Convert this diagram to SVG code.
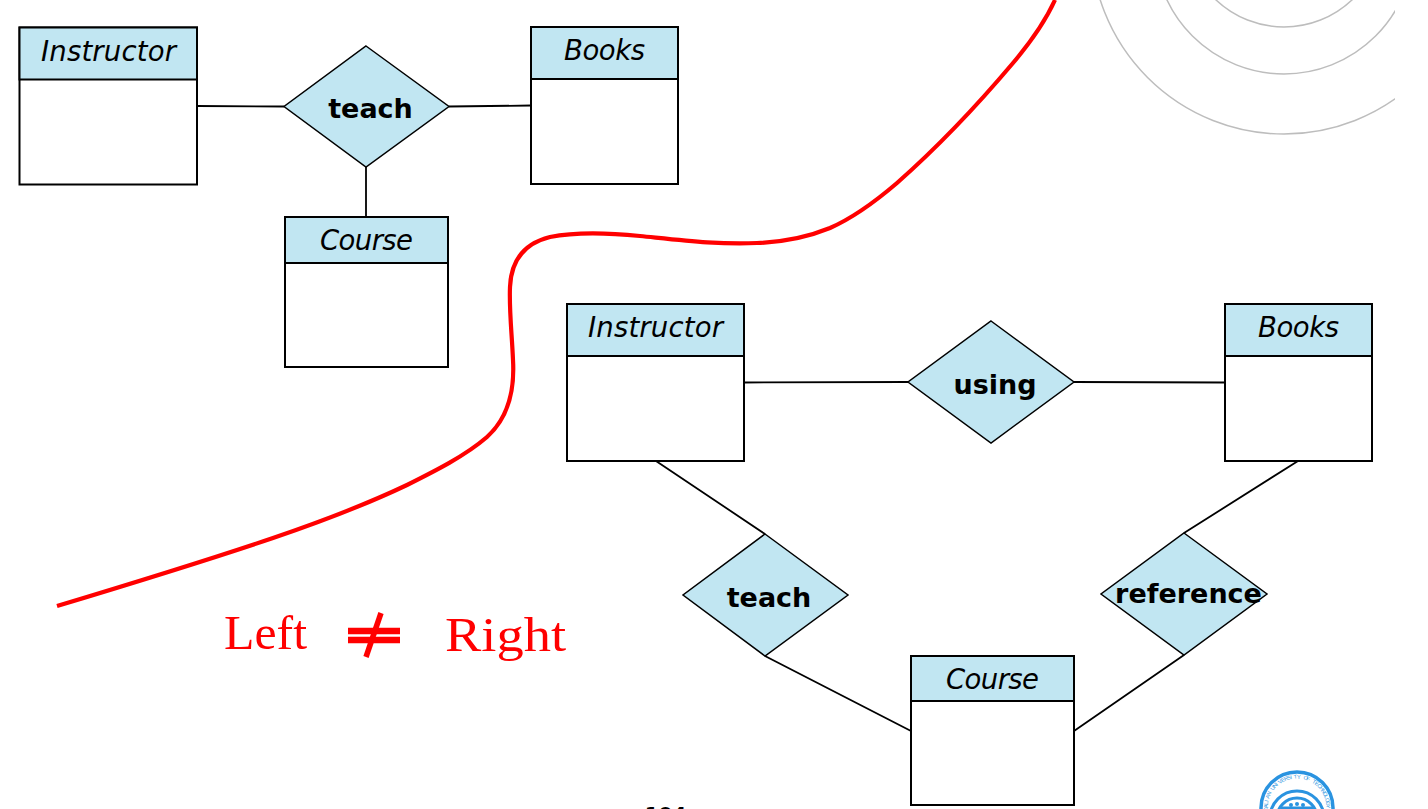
<svg xmlns="http://www.w3.org/2000/svg" width="1428" height="809" viewBox="0 0 1428 809">
<style>
.box{fill:#fff;stroke:#000;stroke-width:2}
.hd{fill:#c1e6f2;stroke:#000;stroke-width:2}
.dm{fill:#c1e6f2;stroke:#000;stroke-width:1.5}
.ln{fill:none;stroke:#000;stroke-width:1.8}
.en{font:italic 27.500px "DejaVu Sans",Verdana,sans-serif;text-anchor:middle;fill:#000}
.rl{font:bold 27px "DejaVu Sans",Verdana,sans-serif;text-anchor:middle;fill:#000}
.red{font:48px "Liberation Serif","Times New Roman",serif;fill:#f00}
.arc{fill:none;stroke:#bdbdbd;stroke-width:1.5}
.lg{fill:none;stroke:#2a93e0}
</style>
<defs>
<clipPath id="cc"><rect x="1090" y="0" width="305" height="140"/></clipPath>
</defs>
<rect width="1428" height="809" fill="#fff"/>
<g id="background-arcs" clip-path="url(#cc)">
<circle class="arc" cx="1284" cy="-59" r="193"/>
<circle class="arc" cx="1284" cy="-55.500" r="129.500"/>
<circle class="arc" cx="1284" cy="-72" r="99"/>
</g>
<g id="connectors">
<path class="ln" d="M197 106L284 106.500M449 106.500L531 105.500M366 167L366 217"/>
<path class="ln" d="M744 382.500L908 382M1074 382L1225 382.500M656 461L765 534M765 656L911 731M1298 461L1184 533M1184 655L1074 731"/>
</g>
<g id="instructor-left"><rect class="box" x="19.500" y="27.500" width="177.500" height="157"/><rect class="hd" x="19.500" y="27.500" width="177.500" height="52"/><text class="en" x="108.500" y="61" textLength="135">Instructor</text></g>
<g id="books-left"><rect class="box" x="531" y="27" width="147" height="157"/><rect class="hd" x="531" y="27" width="147" height="52"/><text class="en" x="604.500" y="60" textLength="81">Books</text></g>
<g id="course-left"><rect class="box" x="285" y="217" width="163" height="150"/><rect class="hd" x="285" y="217" width="163" height="46"/><text class="en" x="366.500" y="250" textLength="93">Course</text></g>
<g id="teach-left"><polygon class="dm" points="366,46 449,106.500 366,167 284,106.500"/><text class="rl" x="370.500" y="118">teach</text></g>
<g id="instructor-right"><rect class="box" x="567" y="304" width="177" height="157"/><rect class="hd" x="567" y="304" width="177" height="52"/><text class="en" x="655.500" y="337" textLength="135">Instructor</text></g>
<g id="books-right"><rect class="box" x="1225" y="304" width="147" height="157"/><rect class="hd" x="1225" y="304" width="147" height="52"/><text class="en" x="1298.500" y="337" textLength="81">Books</text></g>
<g id="course-right"><rect class="box" x="911" y="656" width="163" height="149"/><rect class="hd" x="911" y="656" width="163" height="45"/><text class="en" x="992.500" y="689" textLength="93">Course</text></g>
<g id="using"><polygon class="dm" points="991,321 1074,382 991,443 908,382"/><text class="rl" x="995" y="394">using</text></g>
<g id="teach-right"><polygon class="dm" points="765,534 848,595 765,656 683,595"/><text class="rl" x="769" y="607">teach</text></g>
<g id="reference"><polygon class="dm" points="1184,533 1267,594 1184,655 1101,594"/><text class="rl" x="1188.500" y="603">reference</text></g>
<path id="red-curve" fill="none" stroke="#f00" stroke-width="4.200" d="M57 606C130 584 205 561 273 538C320 522 365 505 407 485C435 471 465 456 487 437C506 420 515 395 513 360C512 335 509 310 510 287C511 262 522 244 550 237C575 232 610 233 640 236C680 240 720 245 757 243C785 242 808 237 830 228C855 217 876 201 897 183C940 145 975 108 1013 63C1030 43 1045 22 1055 0"/>
<g id="not-equal-label">
<text class="red" x="224" y="649" textLength="83" lengthAdjust="spacingAndGlyphs">Left</text>
<text class="red" x="445" y="651" textLength="121" lengthAdjust="spacingAndGlyphs">Right</text>
<path fill="none" stroke="#f00" stroke-width="6.300" d="M348 631H400M348 640H400"/>
<path fill="none" stroke="#f00" stroke-width="5.500" d="M381 613L366 657"/>
</g>
<text id="page-number" x="665.500" y="821" font-family="DejaVu Sans,sans-serif" font-weight="bold" font-size="20" text-anchor="middle">104</text>
<g id="logo">
<circle class="lg" cx="1297" cy="808" r="36" stroke-width="3.500"/>
<circle class="lg" cx="1297" cy="818" r="27" stroke-width="3"/>
<circle class="lg" cx="1297" cy="818" r="20" stroke-width="3"/>
<circle cx="1297" cy="804" r="2" fill="#2a93e0"/>
<circle cx="1291" cy="805" r="2" fill="#2a93e0"/>
<circle cx="1303" cy="805" r="2" fill="#2a93e0"/>
<rect x="1281" y="806.500" width="32" height="2.500" fill="#2a93e0"/>
<text font-family="Liberation Sans,sans-serif" font-size="5.500" fill="#2a93e0" x="1267.660 1267.500 1267.660 1268.150 1268.940 1270.050 1271.450 1273.130 1275.080 1277.260 1279.660 1282.250 1285 1287.880 1290.870 1293.920 1297 1300.080 1303.130 1306.120 1309 1311.750 1314.340 1316.740 1318.920 1320.870 1322.550 1323.950 1325.060 1325.850 1326.340" y="811.080 808 804.920 801.870 798.880 796 793.250 790.660 788.260 786.080 784.130 782.450 781.050 779.940 779.150 778.660 778.500 778.660 779.150 779.940 781.050 782.450 784.130 786.080 788.260 790.660 793.250 796 798.880 801.870 804.920" rotate="-96 -90 -84 -78 -72 -66 -60 -54 -48 -42 -36 -30 -24 -18 -12 -6 0 6 12 18 24 30 36 42 48 54 60 66 72 78 84">DALIAN UNIVERSITY OF TECHNOLOGY</text>
</g>
</svg>
